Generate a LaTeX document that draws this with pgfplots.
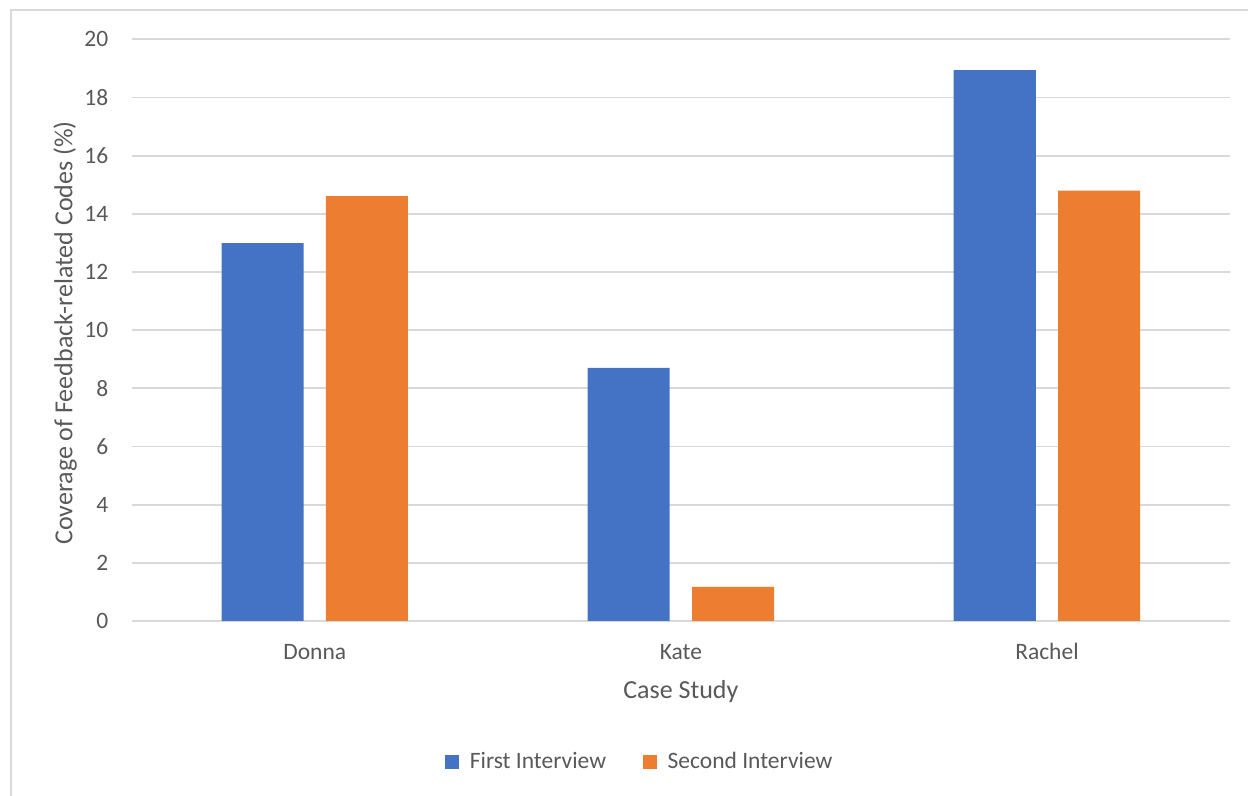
\documentclass[border=0pt]{standalone}
\usepackage{pgfplots}
\pgfplotsset{compat=1.18}
\usepackage{fontspec}
\setmainfont{Carlito}

\definecolor{firstblue}{HTML}{4472C4}
\definecolor{secondorange}{HTML}{ED7D31}
\definecolor{labelgray}{HTML}{595959}
\definecolor{gridgray}{HTML}{D9D9D9}

\begin{document}
\begin{tikzpicture}
% page frame (1 px = 0.5 pt)
\useasboundingbox (-65.85pt,-87.5pt) rectangle (558.15pt,310.5pt);
\fill[white] (-65.85pt,-87.5pt) rectangle (558.15pt,310.5pt);
\draw[gridgray, line width=0.75pt] (-60.35pt,-87.5pt) -- (-60.35pt,305.5pt) -- (558.15pt,305.5pt);

\begin{axis}[
  scale only axis,
  width=549.15pt, height=290.85pt,
  xmin=-0.5, xmax=2.5,
  ymin=0, ymax=20,
  ytick={0,2,...,20},
  xtick={0,1,2},
  xticklabels={Donna,Kate,Rachel},
  major tick length=0pt,
  axis x line*=bottom,
  axis y line*=left,
  x axis line style={draw=gridgray, line width=0.9pt, -},
  y axis line style={draw=none, -},
  ymajorgrids,
  grid style={gridgray, line width=0.9pt},
  tick label style={font=\fontsize{11.75}{14}\selectfont, text=labelgray},
  /pgf/number format/assume math mode=true,
  yticklabel style={anchor=east, inner sep=0pt, xshift=-11.5pt},
  xticklabel style={anchor=base, inner sep=0pt, yshift=-19.5pt},
  xlabel={Case Study},
  xlabel style={at={(axis description cs:0.5,0)}, anchor=base, yshift=-39pt,
    font=\fontsize{13}{15}\selectfont, text=labelgray, inner sep=0pt},
  ylabel={Coverage of Feedback-related Codes (\%)},
  ylabel style={at={(axis description cs:-0.054,0.495)}, anchor=base,
    font=\fontsize{13}{15}\selectfont, text=labelgray, inner sep=0pt},
  ybar,
  bar width=0.224,
  legend columns=2,
  legend style={draw=none, fill=none, at={(axis description cs:0.4636,-0.2427)},
    anchor=center, inner sep=0pt,
    font=\fontsize{11.75}{14}\selectfont, text=labelgray,
    /tikz/every odd column/.append style={column sep=3.5pt},
    /tikz/every even column/.append style={column sep=16.5pt}},
  legend image code/.code={\path[fill, draw=none] (0pt,-3.4pt) rectangle (6.8pt,3.4pt);},
]
\addplot[fill=firstblue, draw=none, bar shift=-0.1426] coordinates {(0,12.99) (1,8.70) (2,18.94)};
\addplot[fill=secondorange, draw=none, bar shift=0.1426] coordinates {(0,14.61) (1,1.17) (2,14.80)};
\legend{First Interview, Second Interview}
\end{axis}
\end{tikzpicture}
\end{document}
